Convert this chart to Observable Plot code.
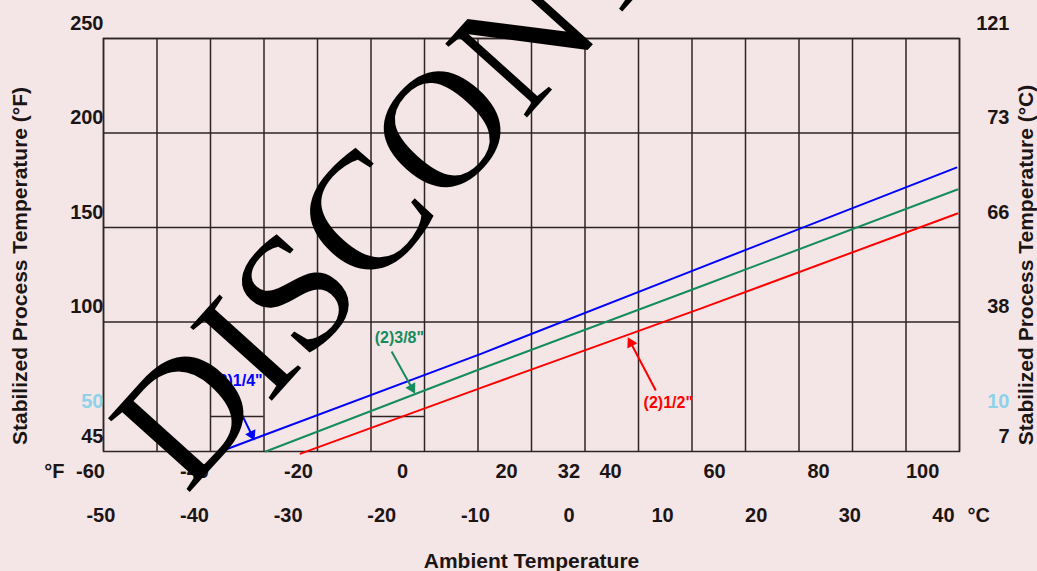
<!DOCTYPE html>
<html><head><meta charset="utf-8">
<script src="https://cdn.jsdelivr.net/npm/d3@7"></script>
<script src="https://cdn.jsdelivr.net/npm/@observablehq/plot@0.6"></script>
<style>
html,body{margin:0;padding:0;background:#f4e6e6;}
#chart svg{display:block;}
</style></head><body><div id="chart"></div>
<script>
// ---- data ----
const leftTicks = [250, 200, 150, 100, 50, 45];            // °F
const rightLabels = ["121", "73", "66", "38", "10", "7"];  // °C (as printed)
const fullRules = [250, 200, 150, 100];
const fTicks = [-60, -40, -20, 0, 20, 32, 40, 60, 80, 100];
const cTicks = [-50, -40, -30, -20, -10, 0, 10, 20, 30, 40];
const seriesNames = ['(2)1/4"', '(2)3/8"', '(2)1/2"'];
const seriesColors = ["#0000ff", "#168c5c", "#ff0000"];
const ambient14 = [-35, 15.2, 57.3, 106.5];
const process14 = [45, 83.3, 128.8, 181.7];
const ambient38 = [-26.3, 15.2, 57.3, 106.7];
const process38 = [45, 75.4, 118.8, 170.1];
const ambient12 = [-19.6, 15.2, 57.3, 106.7];
const process12 = [44.7, 65.3, 107.1, 157.4];
// annotation: label anchor, arrow tail, arrow head (°F ambient, °F process)
const labelX = [-26.9, -0.6, 51.1];
const labelY = [69.0, 91.8, 57.4];
const tailX = [-32.5, -2.1, 48.7];
const tailY = [60.1, 84.4, 63.8];
const headX = [-29.0, 1.8, 43.9];
const headY = [47.4, 65.1, 88.9];
const watermark = "DISCONTINUED";

// ---- build ----
const xDomain = [-57.5, 107.1];
// the chart's 45–50 °F strip is drawn taller than the rest: stretch it by 3.7
const warp = v => v >= 50 ? v : 50 - (50 - v) * 3.7037;
const yDomain = [warp(45), 250];
const gridCols = d3.range(17).map(i => xDomain[0] + i * (xDomain[1] - xDomain[0]) / 16);
const partialRules = [
  {y: 50, x1: gridCols[2], x2: gridCols[3]},
  {y: 50, x1: gridCols[5], x2: gridCols[6]}
];
const seriesX = [ambient14, ambient38, ambient12];
const seriesY = [process14, process38, process12];
const lineData = seriesNames.flatMap((s, k) => seriesX[k].map((x, i) => ({series: s, color: seriesColors[k], x, y: seriesY[k][i]})));
const px = d3.scaleLinear().domain(xDomain).range([103, 959]);
const py = d3.scaleLinear().domain(yDomain).range([451, 38]);
const notes = seriesNames.map((s, k) => ({
  text: s, color: seriesColors[k], lx: labelX[k], ly: labelY[k],
  tx: tailX[k], ty: tailY[k], hx: headX[k], hy: headY[k],
  rot: Math.atan2(px(headX[k]) - px(tailX[k]), -(py(warp(headY[k])) - py(warp(tailY[k])))) * 180 / Math.PI
}));
const ink = "#1c1515";
const gridInk = "#2e2424";
const blueTick = "#8ed2ea";
const bold = {fontSize: 20, fontWeight: "bold"};
const titleFont = {fontSize: 21, fontWeight: "bold"};
const rightRows = leftTicks.map((d, i) => ({y: d, t: rightLabels[i]}));

const plot = Plot.plot({
  width: 1037, height: 571,
  marginLeft: 103, marginRight: 78, marginTop: 38, marginBottom: 120,
  x: {domain: xDomain, axis: null},
  y: {domain: yDomain, transform: warp, axis: null},
  style: {background: "#f4e6e6", fontFamily: "'Liberation Sans', Arial, sans-serif", color: ink},
  marks: [
    Plot.ruleX(gridCols, {stroke: gridInk, strokeWidth: 1.5}),
    Plot.ruleY(fullRules, {stroke: gridInk, strokeWidth: 1.5}),
    Plot.ruleY(partialRules, {y: "y", x1: "x1", x2: "x2", stroke: gridInk, strokeWidth: 1.5}),
    Plot.frame({stroke: gridInk, strokeWidth: 1.5}),
    Plot.line(lineData, {x: "x", y: "y", z: "series", stroke: "color", strokeWidth: 2}),
    Plot.link(notes, {x1: "tx", y1: "ty", x2: "hx", y2: "hy", stroke: "color", strokeWidth: 2}),
    Plot.dot(notes, {x: "hx", y: "hy", symbol: "triangle", r: 4.2, fill: "color", stroke: null, rotate: "rot"}),
    Plot.text(notes.filter((d, i) => i === 0), {x: "lx", y: "ly", text: "text", fill: "color", textAnchor: "end", fontSize: 16, fontWeight: "bold"}),
    Plot.text(notes.filter((d, i) => i > 0), {x: "lx", y: "ly", text: "text", fill: "color", textAnchor: "middle", fontSize: 16, fontWeight: "bold"}),
    // left (°F) tick labels
    Plot.text(leftTicks.filter(d => d !== 50), {y: d => d, text: d => String(d), frameAnchor: "left", textAnchor: "end", lineAnchor: "middle", dy: -15, ...bold, fill: ink}),
    Plot.text(leftTicks.filter(d => d === 50), {y: d => d, text: d => String(d), frameAnchor: "left", textAnchor: "end", lineAnchor: "middle", dy: -15, ...bold, fill: blueTick}),
    // right (°C) tick labels
    Plot.text(rightRows.filter(d => d.y !== 50), {y: "y", text: "t", frameAnchor: "right", textAnchor: "end", lineAnchor: "middle", dx: 50, dy: -15, ...bold, fill: ink}),
    Plot.text(rightRows.filter(d => d.y === 50), {y: "y", text: "t", frameAnchor: "right", textAnchor: "end", lineAnchor: "middle", dx: 50, dy: -15, ...bold, fill: blueTick}),
    // bottom °F labels
    Plot.text(fTicks, {x: d => d, text: d => String(d), frameAnchor: "bottom", textAnchor: "middle", lineAnchor: "middle", dy: 20, ...bold, fill: ink}),
    Plot.text(["°F"], {x: () => fTicks[0], text: d => d, frameAnchor: "bottom", textAnchor: "end", lineAnchor: "middle", dx: -26, dy: 20, ...bold, fill: ink}),
    // bottom °C labels
    Plot.text(cTicks, {x: d => 32 + 1.8 * d, text: d => String(d), frameAnchor: "bottom", textAnchor: "middle", lineAnchor: "middle", dy: 64, ...bold, fill: ink}),
    Plot.text(["°C"], {x: () => 32 + 1.8 * cTicks[cTicks.length - 1], text: d => d, frameAnchor: "bottom", textAnchor: "start", lineAnchor: "middle", dx: 24, dy: 64, ...bold, fill: ink}),
    // axis titles
    Plot.text(["Ambient Temperature"], {text: d => d, frameAnchor: "bottom", textAnchor: "middle", lineAnchor: "middle", dy: 110, ...titleFont, fill: ink}),
    Plot.text(["Stabilized Process Temperature (°F)"], {text: d => d, frameAnchor: "left", textAnchor: "middle", lineAnchor: "middle", rotate: -90, dx: -83, dy: 21, ...titleFont, fill: ink}),
    Plot.text(["Stabilized Process Temperature (°C)"], {text: d => d, frameAnchor: "right", textAnchor: "middle", lineAnchor: "middle", rotate: -90, dx: 67, dy: 20, ...titleFont, fill: ink}),
    // watermark
    Plot.text([watermark], {text: d => d, frameAnchor: "bottom-left", dx: 83, dy: 44, rotate: -48, textAnchor: "start", lineAnchor: "bottom", fontSize: 168, fontFamily: "'Liberation Serif', 'Times New Roman', serif", fontWeight: "normal", fill: "#000"})
  ]
});
document.getElementById("chart").appendChild(plot);
</script>
</body></html>
